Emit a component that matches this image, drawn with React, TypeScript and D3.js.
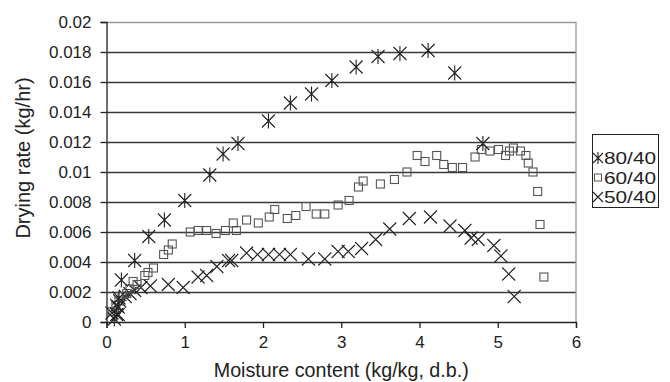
import React, { useEffect, useRef } from 'react';
import * as d3 from 'd3';

// moisture content (kg/kg d.b.) vs drying rate (kg/hr)
const series8040: [number, number][] = [
  [0.10, 0.0002], [0.13, 0.0005], [0.15, 0.0010], [0.16, 0.0016], [0.19, 0.0028],
  [0.36, 0.0041], [0.54, 0.0057], [0.74, 0.0068], [1.00, 0.0081], [1.32, 0.0098],
  [1.49, 0.0112], [1.68, 0.0119], [2.07, 0.0134], [2.35, 0.0146], [2.62, 0.0152],
  [2.88, 0.0161], [3.19, 0.0170], [3.47, 0.0177], [3.75, 0.0179], [4.11, 0.0181],
  [4.45, 0.0166], [4.81, 0.0119],
];

const series6040: [number, number][] = [
  [0.08, 0.0007], [0.12, 0.0011], [0.16, 0.0014], [0.20, 0.0017], [0.26, 0.0019],
  [0.30, 0.0022], [0.34, 0.0027], [0.39, 0.0025], [0.49, 0.0031], [0.53, 0.0033],
  [0.60, 0.0036], [0.73, 0.0045], [0.79, 0.0048], [0.84, 0.0052], [1.07, 0.0060],
  [1.17, 0.0061], [1.28, 0.0061], [1.40, 0.0059], [1.52, 0.0061], [1.62, 0.0066],
  [1.66, 0.0061], [1.79, 0.0068], [1.94, 0.0066], [2.08, 0.0070], [2.15, 0.0075],
  [2.31, 0.0069], [2.42, 0.0071], [2.55, 0.0077], [2.68, 0.0072], [2.79, 0.0072],
  [2.96, 0.0078], [3.10, 0.0081], [3.22, 0.0090], [3.28, 0.0094], [3.50, 0.0092],
  [3.68, 0.0095], [3.84, 0.0100], [3.97, 0.0111], [4.07, 0.0107], [4.22, 0.0111],
  [4.31, 0.0105], [4.42, 0.0103], [4.55, 0.0103], [4.71, 0.0110], [4.79, 0.0115],
  [4.90, 0.0114], [5.01, 0.0115], [5.10, 0.0111], [5.15, 0.0114], [5.20, 0.0116],
  [5.29, 0.0114], [5.36, 0.0111], [5.39, 0.0106], [5.45, 0.0100], [5.51, 0.0087],
  [5.54, 0.0065], [5.59, 0.0030],
];

const series5040: [number, number][] = [
  [0.07, 0.0006], [0.15, 0.0005], [0.13, 0.0011], [0.17, 0.0014], [0.24, 0.0017],
  [0.30, 0.0019], [0.36, 0.0021], [0.44, 0.0023], [0.56, 0.0024], [0.79, 0.0025],
  [0.98, 0.0023], [1.17, 0.0030], [1.28, 0.0031], [1.41, 0.0037], [1.56, 0.0041],
  [1.60, 0.0041], [1.79, 0.0046], [1.93, 0.0045], [2.07, 0.0045], [2.21, 0.0045],
  [2.35, 0.0045], [2.58, 0.0042], [2.79, 0.0042], [2.96, 0.0047], [3.09, 0.0047],
  [3.26, 0.0049], [3.44, 0.0055], [3.62, 0.0062], [3.87, 0.0069], [4.14, 0.0070],
  [4.39, 0.0064], [4.58, 0.0061], [4.66, 0.0056], [4.75, 0.0055], [4.95, 0.0051],
  [5.04, 0.0044], [5.14, 0.0032], [5.21, 0.0017],
];

const legendLabels = ['80/40', '60/40', '50/40'];
const xTicks = [0, 1, 2, 3, 4, 5, 6];
const yTicks = [0, 0.002, 0.004, 0.006, 0.008, 0.01, 0.012, 0.014, 0.016, 0.018, 0.02];

type Marker = 'star' | 'square' | 'cross';

const App = () => {
  const svgRef = useRef<SVGSVGElement>(null);

  useEffect(() => {
    const width = 670;
    const height = 382;
    const margin = { top: 22, right: 94, bottom: 60, left: 106.5 };
    const font = 'Liberation Sans, Arial, sans-serif';

    const svg = d3.select(svgRef.current)
      .attr('width', width)
      .attr('height', height);
    svg.selectAll('*').remove();

    const x = d3.scaleLinear().domain([0, 6]).range([margin.left, width - margin.right]);
    const y = d3.scaleLinear().domain([0, 0.02]).range([height - margin.bottom, margin.top]);

    // grid lines
    svg.append('g')
      .selectAll('line')
      .data(yTicks.filter(d => d > 0 && d < 0.02))
      .enter().append('line')
      .attr('x1', x(0)).attr('x2', x(6))
      .attr('y1', d => Math.round(y(d)) + 0.5).attr('y2', d => Math.round(y(d)) + 0.5)
      .style('stroke', '#3a3a3a')
      .style('stroke-width', 1.3);

    // plot border (top / right)
    svg.append('path')
      .attr('d', `M${x(0)},${y(0.02) + 0.5}H${x(6)}V${y(0)}`)
      .style('fill', 'none')
      .style('stroke', '#9a9a9a')
      .style('stroke-width', 1.3);

    const yAxis = svg.append('g')
      .attr('transform', `translate(${x(0)},0)`)
      .call(d3.axisLeft(y).tickValues(yTicks).tickSize(6).tickPadding(9)
        .tickFormat(d => String(+d)));
    const xAxis = svg.append('g')
      .attr('transform', `translate(0,${y(0)})`)
      .call(d3.axisBottom(x).tickValues(xTicks).tickSize(6).tickPadding(8)
        .tickFormat(d => String(d)));

    [yAxis, xAxis].forEach(a => {
      a.select('.domain').style('stroke', '#222').style('stroke-width', 1.3);
      a.selectAll('.tick line').style('stroke', '#222').style('stroke-width', 1.3);
      a.selectAll('text')
        .style('font-family', font)
        .style('font-size', '17px')
        .style('fill', '#222');
    });

    const drawMarker = (g: any, type: Marker, cx: number, cy: number) => {
      if (type === 'square') {
        g.append('rect')
          .attr('x', cx - 4).attr('y', cy - 4)
          .attr('width', 8).attr('height', 8)
          .style('fill', 'none').style('stroke', '#555').style('stroke-width', 1.1);
      } else {
        const r = 6.5;
        let d = `M${cx - r},${cy - r}L${cx + r},${cy + r}M${cx - r},${cy + r}L${cx + r},${cy - r}`;
        if (type === 'star') d += `M${cx},${cy - r - 1}V${cy + r + 1}`;
        g.append('path')
          .attr('d', d)
          .style('fill', 'none').style('stroke', '#222').style('stroke-width', 1.1);
      }
    };

    const allSeries: [[number, number][], Marker][] = [
      [series5040, 'cross'],
      [series6040, 'square'],
      [series8040, 'star'],
    ];
    allSeries.forEach(([data, type]) => {
      const g = svg.append('g');
      data.forEach(([mx, my]) => drawMarker(g, type, x(mx), y(my)));
    });

    // axis titles
    svg.append('text')
      .attr('x', (x(0) + x(6)) / 2)
      .attr('y', 377)
      .attr('text-anchor', 'middle')
      .style('font-family', font)
      .style('font-size', '19.7px')
      .style('fill', '#222')
      .text('Moisture content (kg/kg, d.b.)');

    svg.append('text')
      .attr('transform', `translate(30,158) rotate(-90)`)
      .attr('text-anchor', 'middle')
      .style('font-family', font)
      .style('font-size', '20px')
      .style('fill', '#222')
      .text('Drying rate (kg/hr)');

    // legend
    const legend = svg.append('g');
    legend.append('rect')
      .attr('x', 592.5).attr('y', 134.5)
      .attr('width', 66).attr('height', 73)
      .style('fill', 'white').style('stroke', '#222').style('stroke-width', 1);
    const legendMarkers: Marker[] = ['star', 'square', 'cross'];
    legendLabels.forEach((label, i) => {
      const cy = 158 + i * 19.5;
      if (legendMarkers[i] === 'square') {
        legend.append('rect')
          .attr('x', 594.5).attr('y', cy - 3.5)
          .attr('width', 7).attr('height', 7)
          .style('fill', 'none').style('stroke', '#555').style('stroke-width', 1);
      } else {
        const g = legend.append('g');
        const r = 5;
        let d = `M${598 - r},${cy - r}L${598 + r},${cy + r}M${598 - r},${cy + r}L${598 + r},${cy - r}`;
        if (legendMarkers[i] === 'star') d += `M598,${cy - r - 1}V${cy + r + 1}`;
        g.append('path').attr('d', d)
          .style('fill', 'none').style('stroke', '#222').style('stroke-width', 1.1);
      }
      legend.append('text')
        .attr('x', 604)
        .attr('y', cy + 6)
        .attr('textLength', 52)
        .attr('lengthAdjust', 'spacingAndGlyphs')
        .style('font-family', font)
        .style('font-size', '17px')
        .style('fill', '#222')
        .text(label);
    });
  }, []);

  return (
    <svg ref={svgRef} style={{ position: 'absolute', left: 0, top: 0 }}></svg>
  );
};

export default App;
